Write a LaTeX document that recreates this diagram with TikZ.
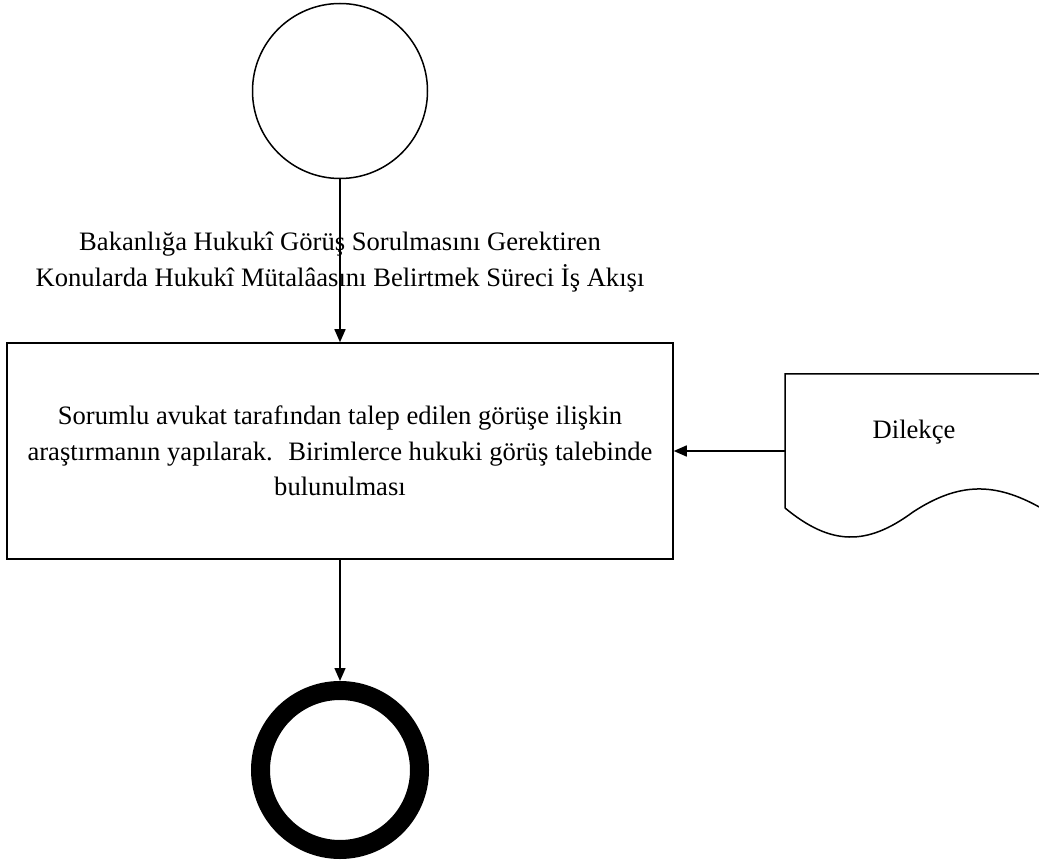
\documentclass[tikz,border=0pt]{standalone}
\usepackage{fontspec}
\setmainfont{Liberation Serif}
\usetikzlibrary{arrows.meta}

\begin{document}
\begin{tikzpicture}
  [x=1pt,y=-1pt,line width=1.5pt,
   every node/.style={font=\fontsize{26.6}{35.5}\selectfont,align=center},
   event/.style={circle,draw=black,inner sep=0pt},
   taskbox/.style={rectangle,draw=black,minimum width=666pt,minimum height=216pt,inner sep=0pt},
   flow/.style={-{Triangle[length=13pt,width=11pt]}}]
  \useasboundingbox (0,0) rectangle (1039,866);
  \node[event,minimum size=175pt] (start) at (340,91) {};
  \node (title) at (340,262) {Bakanlığa Hukukî Görüş Sorulmasını Gerektiren\\Konularda Hukukî Mütalâasını Belirtmek Süreci İş Akışı};
  \node[taskbox] (task) at (340,451) {Sorumlu avukat tarafından talep edilen görüşe ilişkin\\araştırmanın yapılarak.~ Birimlerce hukuki görüş talebinde\\bulunulması};
  \node[event,line width=19pt,minimum size=159pt,outer sep=9.5pt] (end) at (340,770) {};

  % belge
  \draw (785,508) -- (785,374) -- (1041,374) -- (1041,508)
    .. controls (995,482) and (959,482) .. (913,512)
    .. controls (867,546) and (831,546) .. (785,508);
  \node (doctext) at (914,432) {Dilekçe};
  \coordinate (docin) at (785,451);

  \draw[flow] (start.south) -- (task.north);
  \draw[flow] (docin) -- (task.east);
  \draw[flow] (task.south) -- (end.north);
\end{tikzpicture}
\end{document}
